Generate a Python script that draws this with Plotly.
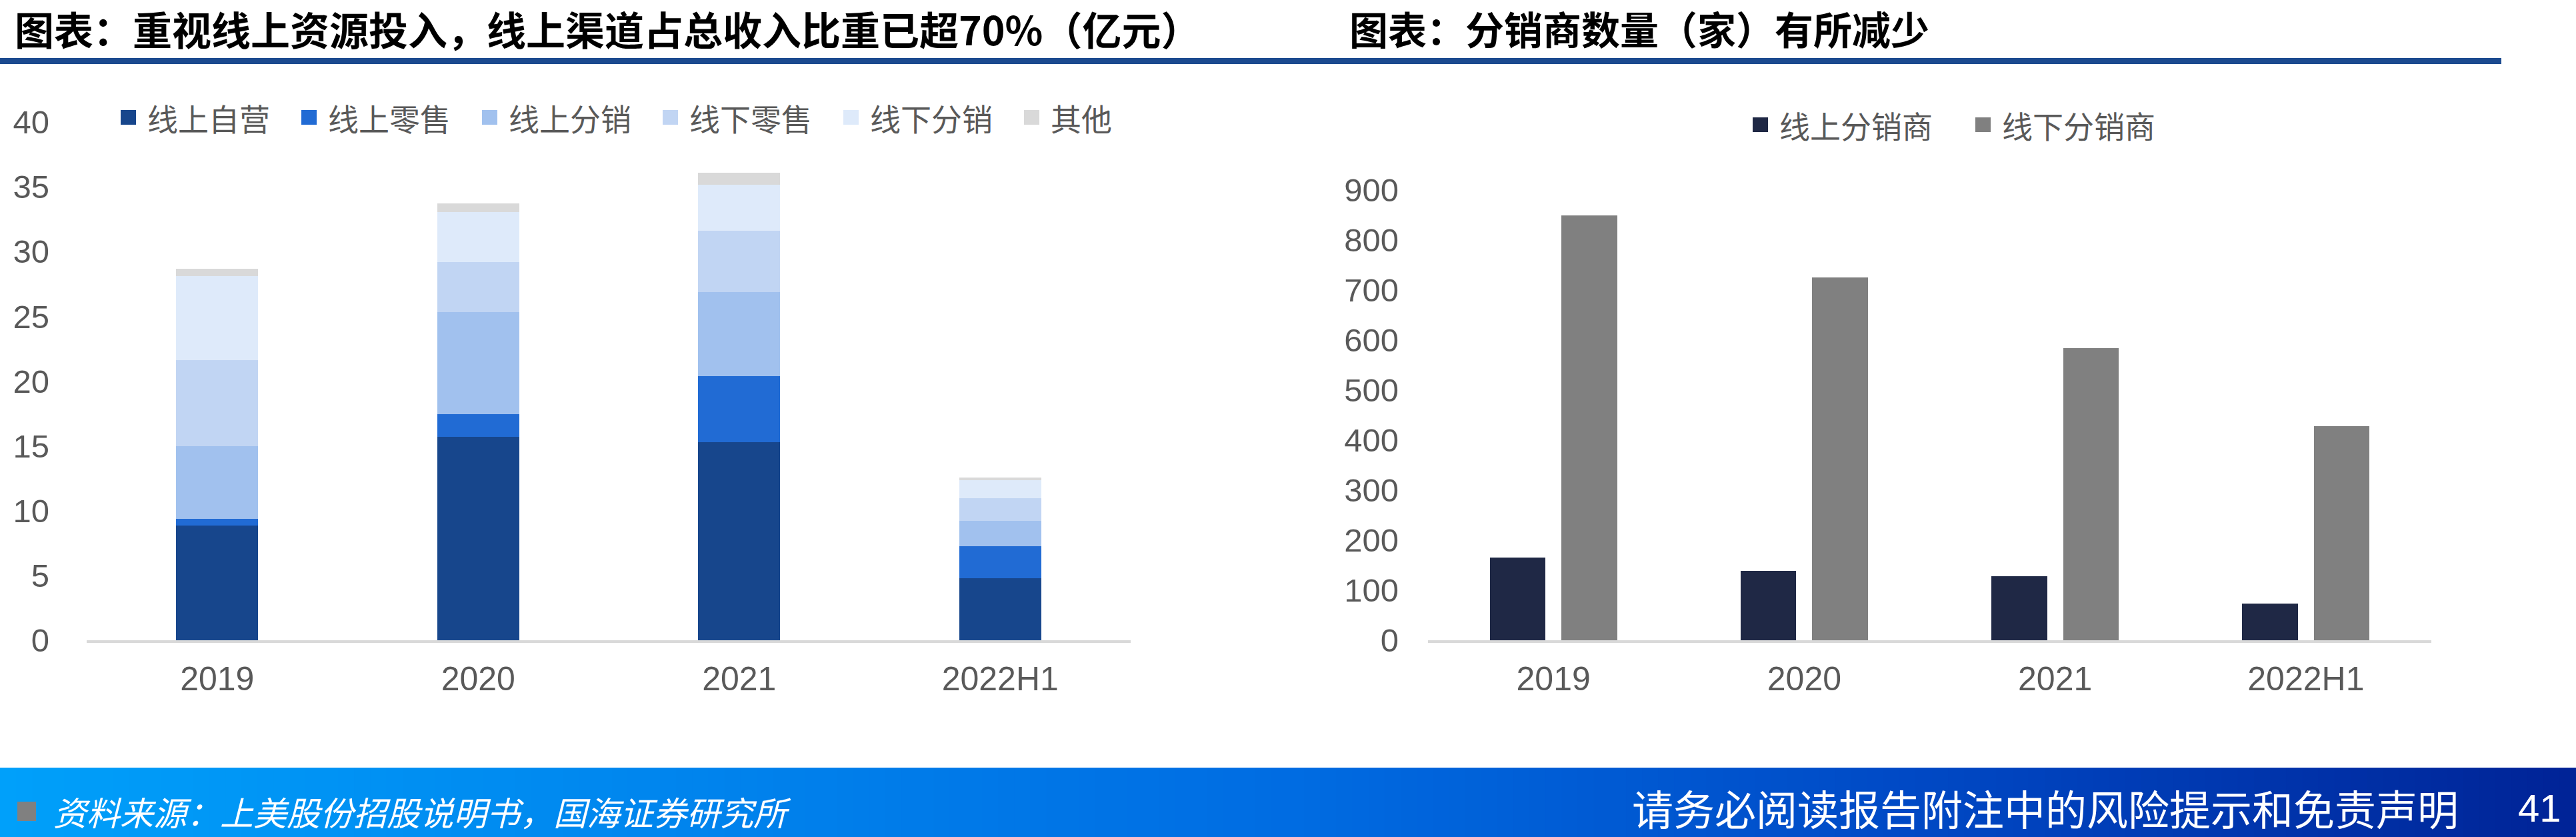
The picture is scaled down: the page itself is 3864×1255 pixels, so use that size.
import plotly.graph_objects as go

# ---------------- data ----------------
years = ["2019", "2020", "2021", "2022H1"]

rev_names = ["线上自营", "线上零售", "线上分销", "线下零售", "线下分销", "其他"]
online_self = [8.85, 15.7, 15.27, 4.77]
online_retail = [0.5, 1.76, 5.13, 2.5]
online_dist = [5.65, 7.86, 6.46, 1.96]
offline_retail = [6.6, 3.87, 4.74, 1.75]
offline_dist = [6.5, 3.86, 3.55, 1.35]
others = [0.57, 0.67, 0.93, 0.21]
rev_colors = ["#17468C", "#216BD4", "#A1C1EE", "#C1D5F3", "#DEEAFA", "#D9D9D9"]

dist_names = ["线上分销商", "线下分销商"]
online_distributors = [165, 139, 128, 74]
offline_distributors = [849, 725, 584, 428]
dist_colors = ["#1F2845", "#808080"]

left_title = "图表：重视线上资源投入，线上渠道占总收入比重已超70%（亿元）"
right_title = "图表：分销商数量（家）有所减少"
source_text = "资料来源：上美股份招股说明书，国海证券研究所"
disclaimer = "请务必阅读报告附注中的风险提示和免责声明"
page_no = "41"

# ---------------- layout helpers ----------------
W, H = 3864, 1255
def px(x):
    return x / W
def py(y):
    return 1 - y / H

CJK = "Noto Sans CJK SC, Noto Sans, sans-serif"
NUM = "Liberation Sans, Arial, sans-serif"
GRAY = "#595959"

fig = go.Figure()

rev_series = [online_self, online_retail, online_dist, offline_retail, offline_dist, others]
for name, vals, col in zip(rev_names, rev_series, rev_colors):
    fig.add_trace(go.Bar(x=years, y=vals, name=name, marker=dict(color=col, line=dict(width=0)),
                         width=0.314, xaxis="x", yaxis="y", showlegend=False, hoverinfo="skip"))

dist_series = [online_distributors, offline_distributors]
dist_offsets = [-0.254, 0.032]
for name, vals, col, off in zip(dist_names, dist_series, dist_colors, dist_offsets):
    fig.add_trace(go.Bar(x=years, y=vals, name=name, marker=dict(color=col, line=dict(width=0)),
                         base=0, width=0.222, offset=off, xaxis="x2", yaxis="y2",
                         showlegend=False, hoverinfo="skip"))

axis_common = dict(showgrid=False, zeroline=False, fixedrange=True, automargin=False)

fig.update_layout(
    template="none",
    width=W, height=H,
    margin=dict(l=0, r=0, t=0, b=0, pad=0, autoexpand=False),
    paper_bgcolor="white", plot_bgcolor="white",
    showlegend=False,
    barmode="stack",
    xaxis=dict(domain=[px(130), px(1696)], anchor="y", type="category",
               showline=True, linecolor="#D9D9D9", linewidth=4, ticks="",
               tickfont=dict(family=NUM, size=50, color=GRAY), ticklabelstandoff=11,
               **axis_common),
    yaxis=dict(domain=[py(960), py(183)], anchor="x", range=[0, 40], dtick=5,
               showline=False, ticks="", tickfont=dict(family=NUM, size=49, color=GRAY),
               ticklabelstandoff=55, **axis_common),
    xaxis2=dict(domain=[px(2142), px(3647)], anchor="y2", type="category",
                showline=True, linecolor="#D9D9D9", linewidth=4, ticks="",
                tickfont=dict(family=NUM, size=50, color=GRAY), ticklabelstandoff=11,
                **axis_common),
    yaxis2=dict(domain=[py(960), py(285)], anchor="x2", range=[0, 900], dtick=100,
                showline=False, ticks="", tickfont=dict(family=NUM, size=49, color=GRAY),
                ticklabelstandoff=43, **axis_common),
)

shapes = []
annotations = []

# titles
annotations.append(dict(text="<b>" + left_title + "</b>", x=px(20), y=py(42), xref="paper", yref="paper",
                        xanchor="left", yanchor="middle", showarrow=False,
                        font=dict(family=CJK, size=59, color="black")))
annotations.append(dict(text="<b>" + right_title + "</b>", x=px(2022), y=py(42), xref="paper", yref="paper",
                        xanchor="left", yanchor="middle", showarrow=False,
                        font=dict(family=CJK, size=58, color="black")))
# rule under titles
shapes.append(dict(type="rect", xref="paper", yref="paper", x0=0, x1=px(3752), y0=py(96), y1=py(87),
                   fillcolor="#1B4A8F", line=dict(width=0)))

# legends (manual)
def add_legend(names, colors, x_start, step, yc):
    for i, (n, c) in enumerate(zip(names, colors)):
        x0 = x_start + i * step
        shapes.append(dict(type="rect", xref="paper", yref="paper", x0=px(x0), x1=px(x0 + 23),
                           y0=py(yc + 11), y1=py(yc - 11), fillcolor=c, line=dict(width=0)))
        annotations.append(dict(text=n, x=px(x0 + 38), y=py(yc), xref="paper", yref="paper",
                                xanchor="left", yanchor="middle", showarrow=False,
                                font=dict(family=CJK, size=46, color=GRAY)))

add_legend(rev_names, rev_colors, 181, 271, 176)
add_legend(dist_names, dist_colors, 2629, 334, 187)

# footer gradient band
stops = [(0.0, (0, 160, 250)), (0.5, (0, 108, 226)), (0.75, (0, 72, 196)), (1.0, (0, 35, 150))]
def grad(t):
    for (t0, c0), (t1, c1) in zip(stops[:-1], stops[1:]):
        if t <= t1:
            f = (t - t0) / (t1 - t0)
            return "rgb(%d,%d,%d)" % tuple(round(a + (b - a) * f) for a, b in zip(c0, c1))
    return "rgb(%d,%d,%d)" % stops[-1][1]

n_strips = 160
for i in range(n_strips):
    t0 = i / n_strips
    t1 = (i + 1) / n_strips
    shapes.append(dict(type="rect", xref="paper", yref="paper", x0=t0, x1=t1 + 0.0005,
                       y0=0, y1=py(1151), fillcolor=grad((t0 + t1) / 2), line=dict(width=0),
                       layer="below"))

shapes.append(dict(type="rect", xref="paper", yref="paper", x0=px(26), x1=px(54), y0=py(1231), y1=py(1202),
                   fillcolor="#808080", line=dict(width=0)))
annotations.append(dict(text="<i>" + source_text + "</i>", x=px(78), y=py(1216), xref="paper", yref="paper",
                        xanchor="left", yanchor="middle", showarrow=False,
                        font=dict(family=CJK, size=50, color="white")))
annotations.append(dict(text=disclaimer, x=px(3690), y=py(1211), xref="paper", yref="paper",
                        xanchor="right", yanchor="middle", showarrow=False,
                        font=dict(family=CJK, size=62, color="white")))
annotations.append(dict(text=page_no, x=px(3844), y=py(1211), xref="paper", yref="paper",
                        xanchor="right", yanchor="middle", showarrow=False,
                        font=dict(family=NUM, size=58, color="white")))

fig.update_layout(shapes=shapes, annotations=annotations)

fig.write_html("out.html")
